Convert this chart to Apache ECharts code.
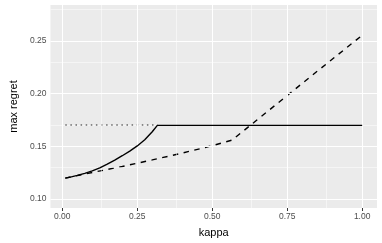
<!DOCTYPE html>
<html><head><meta charset="utf-8">
<script src="https://cdn.jsdelivr.net/npm/echarts@6/dist/echarts.min.js"></script>
<style>html,body{margin:0;padding:0;background:#fff}#c{width:382px;height:243px}</style>
</head><body><div id="c"></div>
<script>
// data
var kappaSolid  = [0.01, 0.03, 0.05, 0.075, 0.10, 0.125, 0.15, 0.175, 0.20, 0.225, 0.25, 0.275, 0.30, 0.317, 0.50, 0.75, 1.00];
var regretSolid = [0.120, 0.1211, 0.1225, 0.1245, 0.1268, 0.1297, 0.1332, 0.1370, 0.1412, 0.1456, 0.1505, 0.1563, 0.1640, 0.170, 0.170, 0.170, 0.170];
var kappaDashed  = [0.01, 0.10, 0.20, 0.30, 0.40, 0.50, 0.566, 0.65, 0.75, 0.85, 1.00];
var regretDashed = [0.120, 0.1253, 0.1310, 0.1372, 0.1437, 0.1507, 0.1560, 0.1753, 0.1983, 0.2213, 0.2555];
var kappaDotted  = [0.01, 0.317];
var regretDotted = [0.170, 0.170];
var xMajor = [0, 0.25, 0.5, 0.75, 1.0];
var xMinor = [0.125, 0.375, 0.625, 0.875];
var yMajor = [0.10, 0.15, 0.20, 0.25];
var yMinor = [0.125, 0.175, 0.225, 0.275];

function pairs(xs, ys){ return xs.map(function(x,i){ return [x, ys[i]]; }); }
function gridLines(vals, key){ return vals.map(function(v){ var o = {}; o[key] = v; return o; }); }

var chart = echarts.init(document.getElementById('c'), null, {renderer:'canvas'});
var fontFam = '"Liberation Sans", Arial, sans-serif';
chart.setOption({
  animation: false,
  grid: {left: 40, right: 5, top: 5, bottom: 31, show: true, backgroundColor: '#EBEBEB', borderWidth: 0},
  xAxis: {
    type: 'value', min: -0.0395, max: 1.0495,
    name: 'kappa', nameLocation: 'middle', nameGap: 19,
    nameTextStyle: {fontSize: 11, color: '#000', fontFamily: fontFam},
    axisLine: {show: false},
    axisTick: {show: true, customValues: xMajor, length: 3, lineStyle: {color: '#333', width: 1}},
    axisLabel: {customValues: xMajor, fontSize: 8.5, color: '#4D4D4D', fontFamily: fontFam, margin: 4,
      formatter: function(v){ return v.toFixed(2); }},
    splitLine: {show: false}
  },
  yAxis: {
    type: 'value', min: 0.0916, max: 0.2842,
    name: 'max regret', nameLocation: 'middle', nameGap: 29, nameRotate: 90,
    nameTextStyle: {fontSize: 11, color: '#000', fontFamily: fontFam},
    axisLine: {show: false},
    axisTick: {show: true, customValues: yMajor, length: 3, lineStyle: {color: '#333', width: 1}},
    axisLabel: {customValues: yMajor, fontSize: 8.5, color: '#4D4D4D', fontFamily: fontFam, margin: 4,
      formatter: function(v){ return v.toFixed(2); }},
    splitLine: {show: false}
  },
  series: [
    {type: 'line', data: [], silent: true, z: 0,
      markLine: {silent: true, symbol: 'none', label: {show: false}, animation: false,
        lineStyle: {color: '#FFFFFF', width: 0.5, type: 'solid'},
        data: gridLines(xMinor, 'xAxis').concat(gridLines(yMinor, 'yAxis'))}},
    {type: 'line', data: [], silent: true, z: 1,
      markLine: {silent: true, symbol: 'none', label: {show: false}, animation: false,
        lineStyle: {color: '#FFFFFF', width: 1.1, type: 'solid'},
        data: gridLines(xMajor, 'xAxis').concat(gridLines(yMajor, 'yAxis'))}},
    {type: 'line', data: pairs(kappaDotted, regretDotted), showSymbol: false, z: 3,
      lineStyle: {color: '#222', width: 1.5, type: [1.5, 3.6], cap: 'butt'}},
    {type: 'line', data: pairs(kappaDashed, regretDashed), showSymbol: false, z: 4,
      lineStyle: {color: '#000', width: 1.4, type: [5.5, 5.5]}},
    {type: 'line', data: pairs(kappaSolid, regretSolid), showSymbol: false, z: 5,
      lineStyle: {color: '#000', width: 1.4, type: 'solid'}}
  ]
});
</script></body></html>
